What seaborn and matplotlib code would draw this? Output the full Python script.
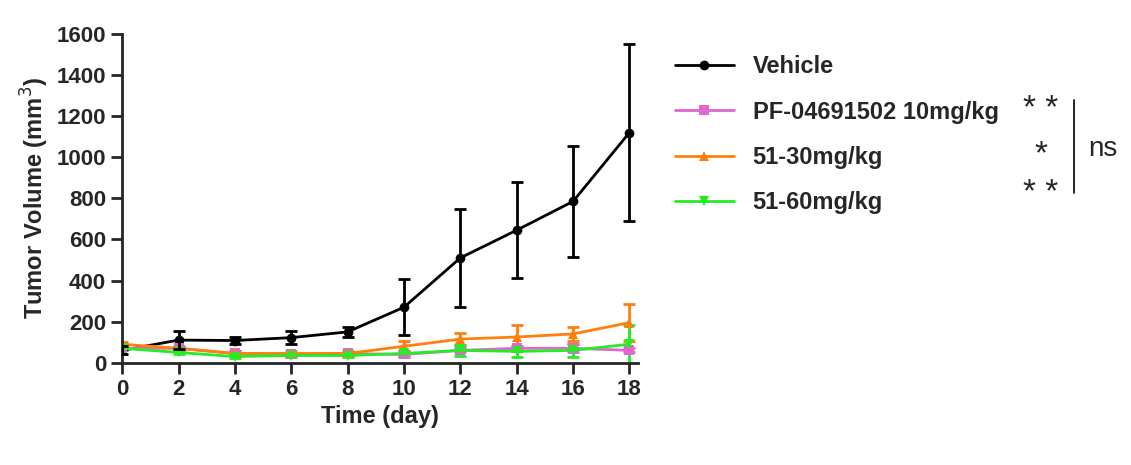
import numpy as np
import pandas as pd
import matplotlib
matplotlib.use('Agg')
import matplotlib.pyplot as plt
import seaborn as sns

days = [0, 2, 4, 6, 8, 10, 12, 14, 16, 18]
vehicle = [60, 110, 108, 122, 150, 270, 510, 645, 785, 1120]
vehicle_err = [20, 45, 15, 30, 25, 135, 240, 235, 270, 430]
pf = [70, 70, 45, 40, 45, 40, 60, 70, 70, 60]
pf_err = [8, 8, 10, 8, 8, 10, 10, 12, 20, 10]
g30 = [90, 70, 45, 45, 45, 80, 115, 125, 140, 195]
g30_err = [10, 10, 10, 10, 10, 25, 30, 60, 35, 90]
g60 = [70, 50, 30, 35, 35, 45, 60, 55, 60, 90]
g60_err = [8, 8, 8, 8, 8, 10, 25, 25, 30, 95]

groups = ['Vehicle', 'PF-04691502 10mg/kg', '51-30mg/kg', '51-60mg/kg']
colors = ['black', '#e066d0', '#ff7f0e', '#22ee22']
means = [vehicle, pf, g30, g60]
errs = [vehicle_err, pf_err, g30_err, g60_err]
markers = ['o', 's', '^', 'v']

df = pd.DataFrame({'day': days * 4,
                   'vol': sum(means, []),
                   'group': sum([[g] * len(days) for g in groups], [])})

sns.set_style('ticks')
plt.rcParams['font.family'] = ['Liberation Sans', 'DejaVu Sans']
fig = plt.figure(figsize=(11.31, 4.65), dpi=100)
ax = fig.add_axes([0.108, 0.22, 0.456, 0.707])

order = [0, 2, 3, 1]
for i in order:
    ax.errorbar(days, means[i], yerr=errs[i], color=colors[i], capsize=4,
                elinewidth=2, capthick=2, lw=0, zorder=2 + (i == 0))
sns.lineplot(data=df, x='day', y='vol', hue='group', hue_order=groups,
             palette=colors, style='group', markers=markers, dashes=False,
             markersize=7, markeredgewidth=0, lw=2, ax=ax, legend=True)

ax.set_xlim(0, 18.3)
ax.set_ylim(0, 1600)
ax.set_xticks(range(0, 19, 2))
ax.set_yticks(range(0, 1601, 200))
ax.set_xlabel('Time (day)', fontsize=17, fontweight='bold')
ax.set_ylabel('Tumor Volume (mm$^3$)', fontsize=17, fontweight='bold', labelpad=4)
ax.tick_params(labelsize=16, width=2, length=8)
for t in ax.get_xticklabels() + ax.get_yticklabels():
    t.set_fontweight('bold')
for s in ['left', 'bottom']:
    ax.spines[s].set_linewidth(2)
sns.despine(ax=ax)

leg = ax.legend(loc='upper left', bbox_to_anchor=(1.03, 1.0), frameon=False,
                prop={'size': 17, 'weight': 'bold'}, labelspacing=0.95,
                handlelength=2.5)

fig.text(0.92, 0.765, '* *', fontsize=24, ha='center', va='center')
fig.text(0.92, 0.668, '*', fontsize=24, ha='center', va='center')
fig.text(0.92, 0.583, '* *', fontsize=24, ha='center', va='center')
fig.add_artist(plt.Line2D([0.95, 0.95], [0.585, 0.785], color='black', lw=1.2))
fig.text(0.962, 0.68, 'ns', fontsize=20, ha='left', va='center')

fig.savefig('out.png', dpi=100)
